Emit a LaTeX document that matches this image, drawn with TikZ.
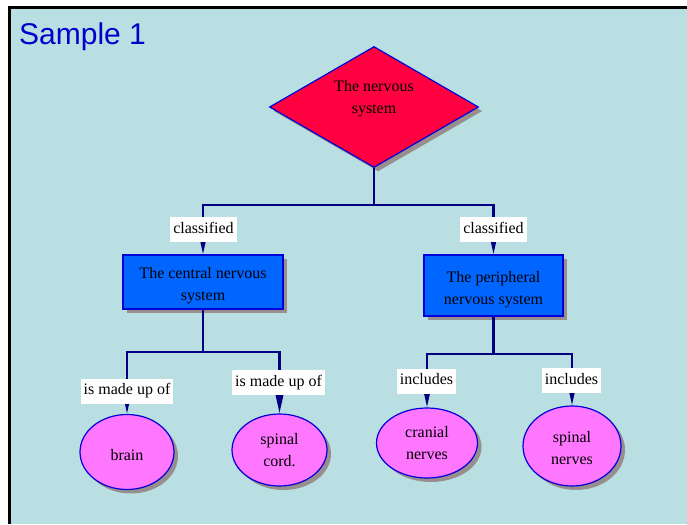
\documentclass[tikz,border=0pt]{standalone}
\usepackage{fontspec}
\setmainfont{Liberation Serif}
\newfontfamily\titlefont{Liberation Sans}
\usetikzlibrary{shapes.geometric,shadows,arrows.meta}

\definecolor{bg}{RGB}{186,223,226}
\definecolor{titleblue}{RGB}{0,0,204}
\definecolor{edgeblue}{RGB}{0,0,215}
\definecolor{navy}{RGB}{0,0,128}
\definecolor{topicred}{RGB}{255,0,64}
\definecolor{branchblue}{RGB}{0,102,255}
\definecolor{leafpink}{RGB}{255,119,255}
\definecolor{shadowgray}{RGB}{152,142,142}

\begin{document}
\begin{tikzpicture}[x=1pt,y=-1pt,
  conn/.style={draw=navy,line width=2.3pt},
  tip/.style={conn,-{Triangle[length=20pt,width=8pt]}},
  castshadow/.style={general shadow={shadow xshift=4pt,shadow yshift=-4pt,fill=shadowgray}},
  body/.style={font=\fontsize{16}{22}\selectfont,align=center,text=black},
  topic/.style={diamond,draw=edgeblue,line width=1.2pt,fill=topicred,castshadow,
    minimum width=209pt,minimum height=121pt,inner sep=0pt},
  branch/.style={rectangle,draw=edgeblue,line width=1.2pt,fill=branchblue,castshadow,body,
    inner sep=0pt,text height=41pt},
  leaf/.style={ellipse,draw=edgeblue,line width=1.2pt,fill=leafpink,castshadow,body,inner sep=0pt},
  tag/.style={fill=white,body,inner xsep=3pt,inner ysep=0pt,text height=11pt,text depth=3.5pt,minimum height=25pt}
]
\useasboundingbox (0,0) rectangle (687,524);

% frame and backdrop
\fill[black] (8,6) rectangle (687,524);
\fill[bg] (11,9) rectangle (687,524);

\node[anchor=base west,inner sep=0pt,text=titleblue,
  font=\titlefont\fontsize{30}{36}\selectfont] (title) at (19,45) {Sample 1};

% concept nodes
\node[topic] (ns) at (374,107) {};
\node[body,inner sep=0pt] (nstext) at (374,99) {The nervous\\system};

\node[branch,minimum width=160pt,minimum height=54pt] (cns) at (203,282) {The central nervous\\system};
\node[branch,minimum width=139pt,minimum height=61pt] (pns) at (493.5,285.5) {The peripheral\\nervous system};

\node[leaf,minimum width=94pt,minimum height=75pt,text height=17pt] (brain) at (127,452) {brain};
\node[leaf,minimum width=95pt,minimum height=72pt] (sc) at (279.5,450) {spinal\\cord.};
\node[leaf,minimum width=101pt,minimum height=70pt] (cn) at (427,443) {cranial\\nerves};
\node[leaf,minimum width=98pt,minimum height=80pt,text height=37pt] (sn) at (572,446) {spinal\\nerves};

% branching points
\coordinate (j1) at (374,205);
\coordinate (j2) at (203,352);
\coordinate (j3) at (493.5,354);

% connectors
\draw[conn] (ns.south) -- (j1);
\draw[tip] (j1) -| (cns.north);
\draw[tip] (j1) -| (pns.north);
\draw[conn] (cns.south) -- (j2);
\draw[tip] (j2) -| (brain.north);
\draw[tip] (j2) -| (sc.north);
\draw[conn] (pns.south) -- (j3);
\draw[tip] (j3) -| (cn.north);
\draw[tip] (j3) -| (sn.north);

% linking phrases
\node[tag] (l1) at (203.5,229.5) {classified};
\node[tag] (l2) at (493.5,229.5) {classified};
\node[tag] (l3) at (127,391) {is made up of};
\node[tag] (l4) at (278.5,382.5) {is made up of};
\node[tag] (l5) at (426.5,381) {includes};
\node[tag] (l6) at (571.5,380.5) {includes};
\end{tikzpicture}
\end{document}
